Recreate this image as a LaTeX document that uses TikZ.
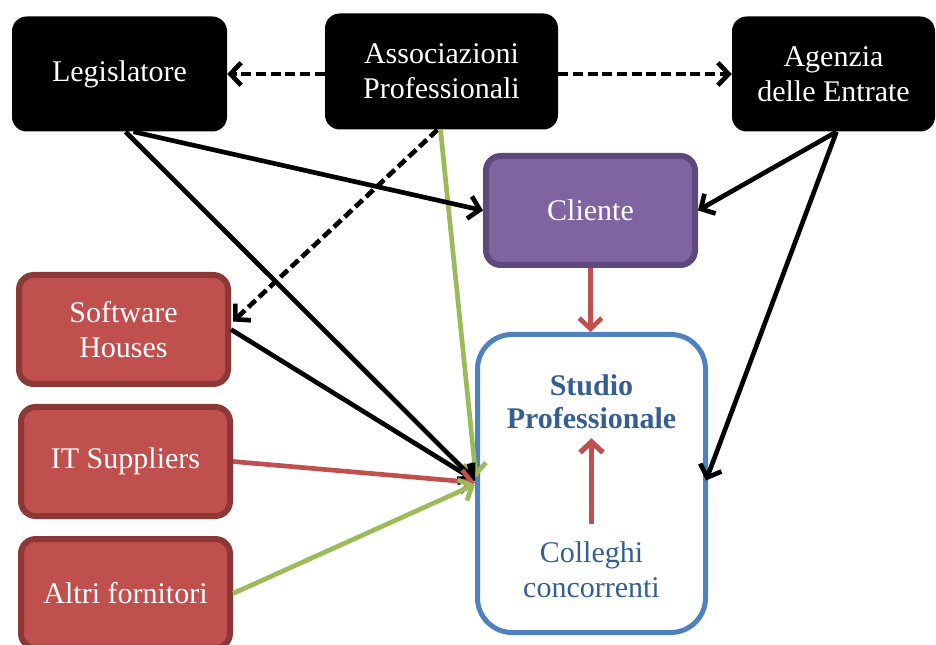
\documentclass[tikz,border=0pt]{standalone}
\usepackage{fontspec}
\setmainfont{Liberation Serif}
\usetikzlibrary{arrows.meta,calc}
\definecolor{redfill}{HTML}{C0504D}
\definecolor{redline}{HTML}{8C3836}
\definecolor{purfill}{HTML}{8064A2}
\definecolor{purline}{HTML}{5F497A}
\definecolor{bluebox}{HTML}{4F81BD}
\definecolor{bluetext}{HTML}{365F91}
\definecolor{greenline}{HTML}{9BBB59}
\tikzset{
  txt/.style={font=\fontsize{22.5}{26}\selectfont, align=center, inner sep=2pt},
  blackbox/.style={txt, fill=black, text=white, rounded corners=11pt,
    minimum width=#1*0.75pt, minimum height=86.25pt},
  redbox/.style={txt, fill=redfill, draw=redline, line width=4.5pt, text=white,
    rounded corners=11pt, minimum width=156.75pt, minimum height=81.75pt},
  purbox/.style={txt, fill=purfill, draw=purline, line width=4.5pt, text=white,
    rounded corners=11pt, minimum width=156.75pt, minimum height=81.75pt},
  studiobox/.style={draw=bluebox, line width=3.75pt, fill=white, rounded corners=26pt,
    minimum width=171pt, minimum height=223.5pt, inner sep=0pt},
  tip/.style={-{Straight Barb[length=8pt,width=17pt]}},
  conn/.style={line width=3.5pt, tip},
  dashconn/.style={conn, dash pattern=on 7.5pt off 3.5pt},
}
\begin{document}
\begin{tikzpicture}[x=0.75pt,y=-0.75pt]
\useasboundingbox (0,0) rectangle (936,645);
% boxes
\node[blackbox=215] (leg) at (119.5,74) {Legislatore};
\node[blackbox=233, minimum height=87pt] (assoc) at (441.5,71.5) {Associazioni\\Professionali};
\node[blackbox=203] (agz) at (833.5,74) {Agenzia\\delle Entrate};
\node[purbox] (cli) at (590.5,210.5) {Cliente};
\node[redbox] (sh) at (123.5,329.5) {Software\\Houses};
\node[redbox] (it) at (125.5,461.5) {IT Suppliers};
\node[redbox] (altri) at (125.5,593.5) {Altri fornitori};
\node[studiobox] (studio) at (591.5,483.5) {};
\node[txt, text=bluetext, font=\fontsize{22.5}{25}\selectfont\bfseries] (stext) at (591.5,402) {Studio\\Professionale};
\node[txt, text=bluetext] (coll) at (591.5,570) {Colleghi\\concorrenti};
% connectors
\draw[dashconn] (assoc.west|-leg.east) -- (leg.east);
\draw[dashconn] (assoc.east|-agz.west) -- (agz.west);
\draw[dashconn] ($(assoc.south)+(-4,0)$) -- ($(sh.east)+(2,-8)$);
\draw[conn, draw=greenline] ($(assoc.south)+(-1,0)$) -- ($(studio.west)+(1,-6)$);
\draw[conn] ($(leg.south)+(14,0)$) -- (cli.west);
\draw[conn] ($(leg.south)+(6,0)$) -- ($(studio.west)+(0,-3)$);
\draw[conn] (sh.east) -- ($(studio.west)+(0,-3)$);
\draw[conn, draw=redfill] (it.east) -- ($(studio.west)+(0,-1)$);
\draw[conn, draw=greenline] (altri.east) -- ($(studio.west)+(0,1)$);
\draw[conn] ($(agz.south)+(3,0)$) -- (cli.east);
\draw[conn] ($(agz.south)+(3,0)$) -- ($(studio.east)+(-2,-3)$);
\draw[conn, draw=redfill] (cli.south) -- (cli.south|-studio.north);
\draw[conn, draw=redfill, line width=4pt] ($(coll.north)+(0,-15)$) -- ($(stext.south)+(0,6)$);
\end{tikzpicture}
\end{document}
